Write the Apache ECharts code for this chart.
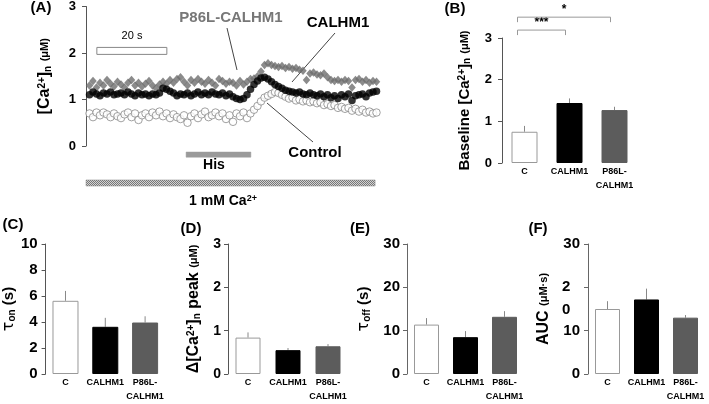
<!DOCTYPE html>
<html><head><meta charset="utf-8">
<script src="https://cdn.jsdelivr.net/npm/echarts@6/dist/echarts.min.js"></script>
<style>html,body{margin:0;padding:0;background:#fff}#c{width:709px;height:404px}</style>
</head><body><div id="c"></div>
<script>
// ---------- DATA ----------
const time = [1,2,3,4,5,6,7,8,9,10,11,12,13,14,15,16,17,18,19,20,21,22,23,24,25,26,27,28,29,30,
  31,32,33,34,35,36,37,38,39,40,41,42,43,44,45,46,47,48,49,50,51,52,53,54,55,56,57,58,59,60,
  61,62,63,64,65,66,67,68,69,70,71,72,73,74,75,76,77,78,79,80,81,82,83];
const control = [0.70,0.62,0.72,0.66,0.72,0.68,0.62,0.70,0.64,0.60,
  0.68,0.72,0.62,0.70,0.56,0.66,0.70,0.62,0.72,0.66,
  0.74,0.64,0.70,0.60,0.68,0.62,0.58,0.66,0.50,0.64,
  0.70,0.60,0.68,0.74,0.62,0.66,0.72,0.64,0.70,0.58,
  0.66,0.52,0.70,0.64,0.72,0.60,0.70,0.78,0.86,0.96,
  1.04,1.08,1.12,1.16,1.14,1.10,1.06,1.02,1.04,0.98,
  1.00,0.96,0.98,0.94,0.96,0.92,0.94,0.88,0.90,0.86,
  0.88,0.82,0.84,0.80,0.82,0.76,0.80,0.74,0.78,0.72,
  0.74,0.70,0.72];
const calhm1 = [1.10,1.16,1.12,1.08,1.14,1.12,1.16,1.10,1.12,1.14,
  1.10,1.16,1.12,1.08,1.14,1.10,1.12,1.08,1.12,1.10,
  1.14,1.24,1.22,1.18,1.14,1.08,1.12,1.10,1.14,1.08,
  1.12,1.16,1.10,1.14,1.10,1.16,1.12,1.10,1.14,1.08,
  1.12,1.06,1.02,1.00,1.02,1.10,1.22,1.32,1.40,1.46,
  1.48,1.44,1.38,1.32,1.28,1.24,1.20,1.18,1.16,1.14,
  1.16,1.12,1.10,1.14,1.10,1.08,1.12,1.06,1.10,1.04,
  1.08,1.02,1.10,1.06,1.12,0.98,1.08,1.10,1.12,1.06,
  1.14,1.16,1.18];
const p86l = [1.30,1.40,1.26,1.36,1.30,1.42,1.34,1.28,1.38,1.32,
  1.26,1.36,1.42,1.30,1.36,1.28,1.34,1.40,1.30,1.24,
  1.32,1.38,1.34,1.42,1.36,1.44,1.48,1.38,1.30,1.42,
  1.36,1.44,1.38,1.34,1.42,1.36,1.30,1.44,1.40,1.34,
  1.38,1.36,1.30,1.40,1.32,1.38,1.44,1.45,1.50,1.60,
  1.74,1.78,1.74,1.72,1.70,1.72,1.68,1.70,1.66,1.68,
  1.64,1.62,1.42,1.56,1.58,1.54,1.52,1.56,1.48,1.42,
  1.40,1.42,1.38,1.42,1.40,1.26,1.42,1.44,1.38,1.42,
  1.36,1.40,1.38];
const stimuli = [ // seconds
  {label:'20 s', t0:3.1, t1:23.1},
  {label:'His', t0:28.6, t1:47.1},
  {label:'1 mM Ca2+', t0:0, t1:82.6}
];
const groups = ['C','CALHM1','P86L-\nCALHM1'];
const baseline = [0.75,1.44,1.27], baselineErr = [0.14,0.11,0.08];
const tauOn = [5.63,3.63,3.96], tauOnErr = [0.76,0.69,0.48];
const peak = [0.84,0.55,0.64], peakErr = [0.12,0.05,0.05];
const tauOff = [11.4,8.5,13.2], tauOffErr = [1.5,1.4,1.3];
const auc = [15.0,17.2,13.0], aucErr = [1.8,2.5,0.6];
const significance = [[0,1,'***'],[0,2,'*']];

// ---------- CHART ----------
const FF = '"Liberation Sans", Arial, Helvetica, sans-serif';
const chart = echarts.init(document.getElementById('c'));

const pc = document.createElement('canvas'); pc.width = 2; pc.height = 2;
const g = pc.getContext('2d'); g.fillStyle = '#d4d4d4'; g.fillRect(0,0,2,2);
g.fillStyle = '#777'; g.fillRect(0,0,1,1); g.fillRect(1,1,1,1);

const grids = [
  {left:86, top:6, width:294, height:140},
  {left:502, top:38, width:135, height:125},
  {left:45, top:244, width:120, height:133},
  {left:228, top:244, width:120, height:133},
  {left:407, top:244, width:117, height:134},
  {left:588, top:244, width:117, height:134}
];
const richBase = (main) => ({
  sup:{fontSize:10, fontWeight:'bold', fontFamily:FF, color:'#000', verticalAlign:'top'},
  sub:{fontSize:10, fontWeight:'bold', fontFamily:FF, color:'#000', verticalAlign:'bottom'},
  u:{fontSize:11, fontWeight:'bold', fontFamily:FF, color:'#000'},
  t:{fontSize:main+1, fontWeight:'normal', fontFamily:'"DejaVu Sans", sans-serif', color:'#000'}
});
const labelRich = {
  w:{fontSize:15, fontWeight:'bold', fontFamily:FF, color:'#000', width:18, align:'left', lineHeight:23}
};
function yAx(gi, min, max, interval, name, gap, nameSize, labelSize, margin, lineColor, fmt){
  return {gridIndex:gi, type:'value', min, max, interval,
    axisLine:{show:true, lineStyle:{color:lineColor, width:1}},
    axisTick:{show:true, length:4, lineStyle:{color:lineColor}},
    splitLine:{show:false},
    axisLabel:{fontSize:labelSize, fontWeight:'bold', fontFamily:FF, color:'#000', margin, formatter: fmt, rich: labelRich},
    name, nameLocation:'middle', nameRotate:90, nameGap:gap,
    nameTextStyle:{fontSize:nameSize, fontWeight:'bold', fontFamily:FF, color:'#000', rich:richBase(nameSize)}
  };
}
function xCat(gi){
  return {gridIndex:gi, type:'category', data:groups,
    axisLine:{show:false}, axisTick:{show:false},
    axisLabel:{interval:0, fontSize:9, fontWeight:'bold', fontFamily:FF, color:'#000', margin:2, lineHeight:14}};
}
const barStyles = [
  {color:'#fff', borderColor:'#999', borderWidth:1},
  {color:'#000', borderColor:'#000', borderWidth:1},
  {color:'#5c5c5c', borderColor:'#5c5c5c', borderWidth:1}
];
function bars(gi, vals, bw){
  return {type:'bar', xAxisIndex:gi, yAxisIndex:gi, barWidth:bw, z:3,
    data: vals.map((v,i)=>({value:v, itemStyle:barStyles[i]}))};
}
function errs(gi, vals, e){
  return {type:'custom', xAxisIndex:gi, yAxisIndex:gi, z:1,
    data: vals.map((v,i)=>[i, v, v+e[i]]),
    renderItem:(p, api)=>{
      const a = api.coord([api.value(0), api.value(1)]);
      const b = api.coord([api.value(0), api.value(2)]);
      return {type:'line', shape:{x1:a[0], y1:a[1], x2:b[0], y2:b[1]}, style:{stroke:'#888', lineWidth:1}};
    }};
}

const stimLevels = [[2.12,1.97],[-0.13,-0.24],[-0.73,-0.86]];
const stimStyles = [
  {fill:'#fff', stroke:'#888', lineWidth:1},
  {fill:'#9a9a9a', stroke:'#9a9a9a', lineWidth:0.5},
  {fill:{image:pc, repeat:'repeat'}, stroke:'#888', lineWidth:0.5}
];

const series = [
  {type:'scatter', xAxisIndex:0, yAxisIndex:0, symbol:'circle', symbolSize:7.5, z:2,
   itemStyle:{color:'#fff', borderColor:'#8a8a8a', borderWidth:1},
   data: time.map((t,i)=>[t, control[i]])},
  {type:'scatter', xAxisIndex:0, yAxisIndex:0, symbol:'diamond', symbolSize:[7.5,8.5], z:3,
   itemStyle:{color:'#6e6e6e'},
   data: time.map((t,i)=>[t, p86l[i]])},
  {type:'scatter', xAxisIndex:0, yAxisIndex:0, symbol:'circle', symbolSize:7.5, z:4,
   itemStyle:{color:'#000'},
   data: time.map((t,i)=>[t, calhm1[i]])},
  {type:'custom', xAxisIndex:0, yAxisIndex:0, z:1, clip:false,
   data: stimuli.map((s,i)=>[s.t0, s.t1, i]),
   renderItem:(p, api)=>{
     const k = api.value(2);
     const a = api.coord([api.value(0), stimLevels[k][0]]);
     const b = api.coord([api.value(1), stimLevels[k][1]]);
     return {type:'rect', shape:{x:a[0], y:a[1], width:b[0]-a[0], height:b[1]-a[1]}, style:stimStyles[k]};
   }},
  bars(1, baseline, 26), errs(1, baseline, baselineErr),
  {type:'custom', xAxisIndex:1, yAxisIndex:1, z:5, clip:false,
   data: significance.map((s,i)=>[s[0], s[1], i]),
   renderItem:(p, api)=>{
     const i = api.value(2);
     const lv = i === 0 ? 3.19 : 3.50;
     const a = api.coord([api.value(0), lv]);
     const b = api.coord([api.value(1), lv]);
     const x1 = a[0]-7, x2 = b[0]-4, y = a[1], drop = 5;
     return {type:'group', children:[
       {type:'polyline', shape:{points:[[x1,y+drop],[x1,y],[x2,y],[x2,y+drop]]}, style:{stroke:'#999', lineWidth:1, fill:null}},
       {type:'text', x:(x1+x2)/2, y:y-1, style:{text:significance[i][2], fill:'#000', font:'bold 12px '+FF, align:'center', verticalAlign:'bottom'}}
     ]};
   }},
  bars(2, tauOn, 26), errs(2, tauOn, tauOnErr),
  bars(3, peak, 25), errs(3, peak, peakErr),
  bars(4, tauOff, 25), errs(4, tauOff, tauOffErr),
  bars(5, auc, 25), errs(5, auc, aucErr)
];

const gtext = (x, y, text, font, fill, extra) => Object.assign({type:'text', x, y, silent:true,
  style:Object.assign({text, font, fill: fill || '#000', align:'center', verticalAlign:'middle'}, extra || {})});
const gline = (x1,y1,x2,y2) => ({type:'line', silent:true, shape:{x1,y1,x2,y2}, style:{stroke:'#444', lineWidth:1}});

const option = {
  animation:false,
  grid: grids,
  xAxis: [
    {gridIndex:0, type:'value', min:0, max:84, show:false},
    xCat(1), xCat(2), xCat(3), xCat(4), xCat(5)
  ],
  yAxis: [
    yAx(0, 0, 3, 1, '[Ca{sup|2+}]{sub|n} {u|(μM)}', 33, 16, 13, 10, '#555'),
    yAx(1, 0, 3, 1, 'Baseline [Ca{sup|2+}]{sub|n} {u|(μM)}', 30, 15, 13, 10, '#555'),
    yAx(2, 0, 10, 2, '{t|τ}{sub|on} (s)', 27, 15, 15, 8, '#555'),
    yAx(3, 0, 3, 1, 'Δ[Ca{sup|2+}]{sub|n} peak {u|(μM)}', 26, 16, 14, 7, '#555'),
    yAx(4, 0, 30, 10, '{t|τ}{sub|off} (s)', 35, 15, 15, 7, '#666'),
    yAx(5, 0, 30, 10, 'AUC {u|(μM·s)}', 36, 16, 15, 8, '#666',
        v => v === 20 ? '{w| }\n{w|2}\n{w|0}' : String(v))
  ],
  series,
  graphic: [
    gtext(41, 8, '(A)', 'bold 15px '+FF),
    gtext(455, 9, '(B)', 'bold 15px '+FF),
    gtext(13, 225, '(C)', 'bold 15px '+FF),
    gtext(191, 229, '(D)', 'bold 15px '+FF),
    gtext(360, 229, '(E)', 'bold 15px '+FF),
    gtext(538, 229, '(F)', 'bold 15px '+FF),
    gtext(231, 17.5, 'P86L-CALHM1', 'bold 15px '+FF, '#777'),
    gtext(338, 22.5, 'CALHM1', 'bold 15px '+FF),
    gtext(315, 153, 'Control', 'bold 15px '+FF),
    gtext(214, 165, 'His', 'bold 14px '+FF),
    gtext(132, 36, '20 s', '11px '+FF),
    gtext(223, 201, '1 mM Ca{s|2+}', 'bold 14px '+FF, '#000',
      {rich:{s:{fontSize:9, fontWeight:'bold', fontFamily:FF, verticalAlign:'top', fill:'#000'}}}),
    gline(227,28,237,70),
    gline(335,33,292,82),
    gline(267,103,313,142)
  ]
};
chart.setOption(option);
</script></body></html>
